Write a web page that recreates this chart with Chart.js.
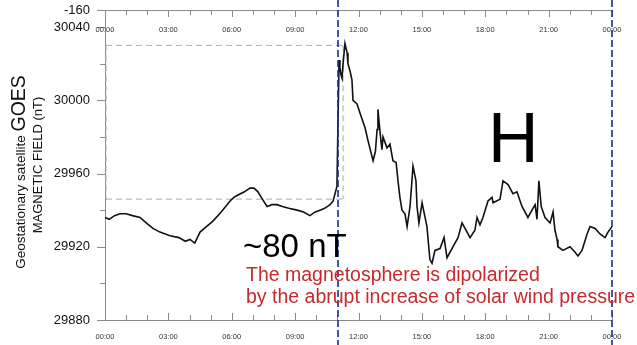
<!DOCTYPE html>
<html>
<head>
<meta charset="utf-8">
<title>GOES - campo magnético</title>
<script src="https://cdn.jsdelivr.net/npm/chart.js@4.4.1/dist/chart.umd.min.js"></script>
<style>
    html, body { margin: 0; padding: 0; background: #fff; }
    #contenedor { width: 637px; height: 345px; position: relative; }
</style>
</head>
<body>
<div id="contenedor"><canvas id="graficoGoes"></canvas></div>
<script>
// Hora del día (UT, en horas) y campo magnético H medido por GOES (nT)
const horas = [
    0.00, 0.20, 0.45, 0.71, 1.00, 1.30, 1.66, 1.95, 2.27, 2.60,
    3.08, 3.50, 3.80, 4.02, 4.25, 4.50, 4.80, 5.11, 5.50, 5.92,
    6.10, 6.25, 6.60, 6.86, 7.05, 7.24, 7.45, 7.67, 7.90, 8.14,
    8.40, 8.70, 9.09, 9.40, 9.70, 9.95, 10.18, 10.40, 10.65, 10.80,
    10.89, 10.98, 11.03, 11.08, 11.12, 11.17, 11.22, 11.27, 11.36, 11.46,
    11.50, 11.60, 11.69, 11.74, 11.93, 12.07, 12.31, 12.45, 12.69, 12.80,
    12.88, 12.92, 13.00, 13.07, 13.11, 13.16, 13.35, 13.49, 13.63, 13.78,
    13.87, 13.96, 14.06, 14.20, 14.30, 14.44, 14.58, 14.72, 14.77, 14.86,
    15.01, 15.15, 15.24, 15.38, 15.48, 15.62, 15.86, 16.05, 16.19, 16.47,
    16.71, 16.90, 17.14, 17.28, 17.51, 17.61, 17.75, 17.89, 18.13, 18.32,
    18.37, 18.70, 18.84, 19.08, 19.31, 19.50, 19.74, 19.88, 20.02, 20.21,
    20.36, 20.45, 20.54, 20.65, 20.83, 21.07, 21.21, 21.30, 21.40, 21.44,
    21.68, 22.01, 22.25, 22.39, 22.58, 22.82, 22.96, 23.20, 23.43, 23.67,
    23.81, 24.00
];
const campoNT = [
    29936, 29935, 29937, 29938, 29938, 29937, 29936, 29933, 29930, 29928,
    29926, 29925, 29923, 29924, 29922, 29928, 29931, 29934, 29939, 29945,
    29947, 29948, 29950, 29952, 29952, 29950, 29946, 29942, 29943, 29943,
    29942, 29941, 29940, 29939, 29937, 29939, 29940, 29941, 29943, 29945,
    29949, 29953, 29989, 30022, 30018, 30014, 30012, 30020, 30031, 30026,
    30020, 30016, 30011, 30000, 29998, 29993, 29985, 29978, 29967, 29972,
    29984, 29995, 29985, 29977, 29973, 29980, 29974, 29976, 29967, 29966,
    29956, 29947, 29940, 29938, 29931, 29942, 29964, 29956, 29942, 29933,
    29944, 29936, 29931, 29913, 29911, 29918, 29919, 29925, 29914, 29920,
    29925, 29933, 29928, 29925, 29929, 29936, 29932, 29936, 29945, 29947,
    29944, 29946, 29956, 29954, 29949, 29950, 29942, 29939, 29936, 29940,
    29943, 29935, 29956, 29942, 29936, 29933, 29939, 29929, 29924, 29920,
    29918, 29920, 29917, 29915, 29918, 29927, 29931, 29930, 29927, 29925,
    29928, 29931
];

// Etiquetas de los ejes
const etiquetasHora = ['00:00', '03:00', '06:00', '09:00', '12:00', '15:00', '18:00', '21:00', '00:00'];
const ticksCampo = [29880, 29920, 29960, 30000, 30040];
const ticksMenores = [29900, 29940, 29980, 30020];
const etiquetaSuperior = '-160';

// Nivel antes y después de la compresión, y horas de referencia
const nivelAntes = 29946;
const nivelDespues = 30030;
const horaSalto = 11.03;
const horaCaja = 11.27;
const horaFin = 24;

const FUENTE = "'Liberation Sans', Arial, sans-serif";
const GRIS_EJE = '#8a8a8a';
const MAX_Y = 30049.3;

// Caja punteada gris que marca el salto de ~80 nT
const cajaSalto = {
    id: 'cajaSalto',
    beforeDatasetsDraw(chart) {
        const { ctx, scales: { x, y } } = chart;
        const x0 = x.getPixelForValue(0) + 1;
        const x1 = x.getPixelForValue(horaCaja);
        const yA = y.getPixelForValue(nivelAntes);
        const yD = y.getPixelForValue(nivelDespues);
        ctx.save();
        ctx.strokeStyle = '#ababab';
        ctx.lineWidth = 1;
        ctx.setLineDash([6, 4]);
        ctx.beginPath();
        ctx.moveTo(x0, yD); ctx.lineTo(x1, yD);
        ctx.moveTo(x0, yA); ctx.lineTo(x1, yA);
        ctx.moveTo(x0, yD); ctx.lineTo(x0, yA);
        ctx.moveTo(x1, yD); ctx.lineTo(x1, yA);
        ctx.stroke();
        ctx.restore();
    }
};

// Marcas de los ejes, eje superior, título vertical y textos
const decoracion = {
    id: 'decoracion',
    afterDraw(chart) {
        const { ctx, chartArea: area, scales: { x, y } } = chart;
        ctx.save();

        // Eje superior y ejes inferior/izquierdo
        ctx.strokeStyle = GRIS_EJE;
        ctx.lineWidth = 1;
        ctx.beginPath();
        ctx.moveTo(area.left - 8, area.top + 0.5);
        ctx.lineTo(area.right, area.top + 0.5);
        ctx.moveTo(area.left - 8, area.bottom + 0.5);
        ctx.lineTo(area.right, area.bottom + 0.5);
        // Marcas horarias hacia dentro (arriba y abajo)
        for (let h = 0; h <= horaFin; h++) {
            const px = Math.round(x.getPixelForValue(h)) + 0.5;
            const largo = h % 3 === 0 ? 7 : 5;
            ctx.moveTo(px, area.top);
            ctx.lineTo(px, area.top + largo);
            ctx.moveTo(px, area.bottom);
            ctx.lineTo(px, area.bottom - largo);
        }
        // Marcas del eje Y hacia fuera
        ticksCampo.forEach(v => {
            const py = Math.round(y.getPixelForValue(v)) + 0.5;
            ctx.moveTo(area.left - 8, py);
            ctx.lineTo(area.left, py);
        });
        ticksMenores.forEach(v => {
            const py = Math.round(y.getPixelForValue(v)) + 0.5;
            ctx.moveTo(area.left - 5, py);
            ctx.lineTo(area.left, py);
        });
        ctx.stroke();

        // Etiquetas horarias del eje superior (por debajo de la línea)
        ctx.fillStyle = '#333';
        ctx.font = '7.5px ' + FUENTE;
        ctx.textAlign = 'center';
        ctx.textBaseline = 'middle';
        etiquetasHora.forEach((txt, i) => {
            ctx.fillText(txt, x.getPixelForValue(i * 3), area.top + 19.5);
        });

        // Líneas azules discontinuas: llegada del choque y fin del día
        ctx.strokeStyle = '#1c2d8a';
        ctx.lineWidth = 1.6;
        ctx.setLineDash([7, 3]);
        [horaSalto, horaFin].forEach(h => {
            const px = x.getPixelForValue(h);
            ctx.beginPath();
            ctx.moveTo(px, 0);
            ctx.lineTo(px, chart.height);
            ctx.stroke();
        });
        ctx.setLineDash([]);

        // Título vertical en dos líneas
        ctx.fillStyle = '#111';
        ctx.textBaseline = 'alphabetic';
        ctx.translate(25, 0);
        ctx.rotate(-Math.PI / 2);
        const parte1 = 'Geostationary satellite ';
        const parte2 = 'GOES';
        ctx.font = '13.5px ' + FUENTE;
        const w1 = ctx.measureText(parte1).width;
        ctx.font = '19.5px ' + FUENTE;
        const w2 = ctx.measureText(parte2).width;
        const inicio = -(172 + (w1 + w2) / 2);
        ctx.textAlign = 'left';
        ctx.font = '13.5px ' + FUENTE;
        ctx.fillText(parte1, inicio, 0);
        ctx.font = '19.5px ' + FUENTE;
        ctx.fillText(parte2, inicio + w1, 0);
        ctx.font = '13px ' + FUENTE;
        ctx.textAlign = 'center';
        ctx.fillText('MAGNETIC FIELD (nT)', -165, 17);
        ctx.setTransform(1, 0, 0, 1, 0, 0);

        // Textos sobre el gráfico
        ctx.textAlign = 'left';
        ctx.textBaseline = 'alphabetic';
        ctx.fillStyle = '#000';
        ctx.font = '70px ' + FUENTE;
        ctx.fillText('H', 488, 162);
        ctx.font = '33px ' + FUENTE;
        ctx.fillText('~80 nT', 243, 257);
        ctx.fillStyle = '#c62a2c';
        ctx.font = '19.5px ' + FUENTE;
        ctx.fillText('The magnetosphere is dipolarized', 246, 281);
        ctx.fillText('by the abrupt increase of solar wind pressure', 246, 303);

        ctx.restore();
    }
};

document.addEventListener('DOMContentLoaded', function () {
    const lienzo = document.getElementById('graficoGoes');
    if (!lienzo) {
        console.error('No se encontró el canvas del gráfico');
        return;
    }

    const puntos = horas.map((h, i) => ({ x: h, y: campoNT[i] }));

    new Chart(lienzo, {
        type: 'line',
        data: {
            datasets: [{
                label: 'H (nT)',
                data: puntos,
                borderColor: '#111',
                borderWidth: 1.6,
                pointRadius: 0,
                tension: 0,
                fill: false
            }]
        },
        options: {
            responsive: true,
            maintainAspectRatio: false,
            animation: false,
            layout: { padding: { left: 0, right: 25, top: 10, bottom: 0 } },
            plugins: {
                legend: { display: false },
                tooltip: { enabled: false }
            },
            scales: {
                x: {
                    type: 'linear',
                    min: 0,
                    max: horaFin,
                    grid: { display: false, drawTicks: false },
                    border: { display: false },
                    ticks: {
                        stepSize: 1,
                        autoSkip: false,
                        maxRotation: 0,
                        padding: 12,
                        color: '#333',
                        font: { family: FUENTE, size: 7.5 },
                        callback: function (value) {
                            return value % 3 === 0 ? etiquetasHora[value / 3] : '';
                        }
                    },
                    afterFit: function (scale) {
                        scale.height = 25;
                        scale.paddingLeft = 0;
                        scale.paddingRight = 0;
                    }
                },
                y: {
                    min: 29880,
                    max: MAX_Y,
                    grid: { display: false, drawTicks: false },
                    border: { display: true, color: GRIS_EJE, width: 1 },
                    afterBuildTicks: function (scale) {
                        scale.ticks = ticksCampo.concat([MAX_Y]).map(v => ({ value: v }));
                    },
                    ticks: {
                        autoSkip: false,
                        padding: 15,
                        color: '#111',
                        font: { family: FUENTE, size: 13 },
                        callback: function (value) {
                            return value === MAX_Y ? etiquetaSuperior : String(value);
                        }
                    },
                    afterFit: function (scale) {
                        scale.width = 105;
                        scale.paddingTop = 0;
                        scale.paddingBottom = 0;
                    }
                }
            }
        },
        plugins: [cajaSalto, decoracion]
    });
});
</script>
</body>
</html>
